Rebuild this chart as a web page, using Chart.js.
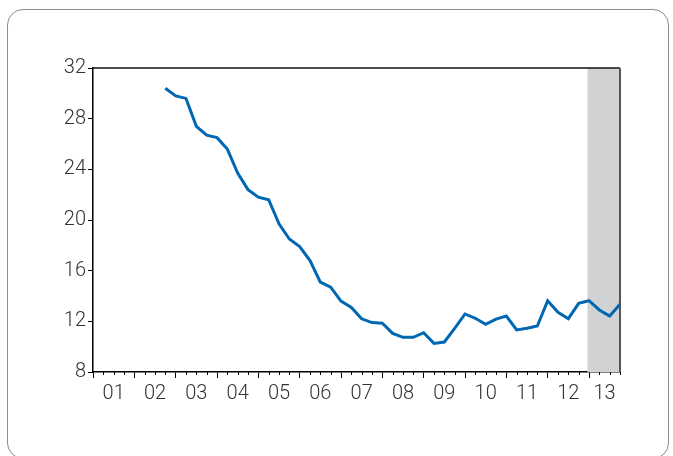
<!DOCTYPE html>
<html>
<head>
<meta charset="utf-8">
<script src="https://cdn.jsdelivr.net/npm/chart.js@4/dist/chart.umd.min.js"></script>
<style>
  html, body { margin: 0; padding: 0; background: #fff; }
  #wrap { position: relative; width: 673px; height: 456px; overflow: hidden; }
  #frame { position: absolute; left: 7px; top: 9px; width: 662px; height: 450px;
           border: 1px solid #8c8c8c; border-radius: 16px; box-sizing: border-box; pointer-events: none; }
  canvas { position: absolute; left: 0; top: 0; }
</style>
</head>
<body>
<div id="wrap">
  <canvas id="c" width="673" height="456"></canvas>
  <div id="frame"></div>
</div>
<script>
// Quarter-end positions from 2000Q4 to 2013Q3
const quarters = [];
for (let y = 2000; y <= 2013; y++) {
  for (let q = 1; q <= 4; q++) {
    if (y === 2000 && q < 4) continue;
    if (y === 2013 && q > 3) continue;
    quarters.push(y + 'Q' + q);
  }
}
const yearLabels = ['01','02','03','04','05','06','07','08','09','10','11','12','13\u2002'];
const values = [
  null, null, null, null, null, null, null,
  30.4, 29.8, 29.6, 27.4, 26.7, 26.5, 25.6, 23.7, 22.4, 21.8,
  21.6, 19.7, 18.5, 17.9, 16.8, 15.1, 14.7, 13.6, 13.1, 12.2,
  11.9, 11.85, 11.05, 10.74, 10.74, 11.1, 10.26, 10.37, 11.45, 12.58,
  12.24, 11.76, 12.18, 12.42, 11.32, 11.45, 11.63, 13.63, 12.71, 12.21,
  13.42, 13.63, 12.9, 12.42, 13.34
];
const yTicks = [8, 12, 16, 20, 24, 28, 32];
const shadeStart = '2012Q4';
const shadeEnd = '2013Q3';

const FONT = "Roboto, 'Liberation Sans', sans-serif";

const overlay = {
  id: 'overlay',
  beforeDatasetsDraw(chart) {
    const {ctx, chartArea: a, scales: {x}} = chart;
    const x0 = x.getPixelForValue(quarters.indexOf(shadeStart)) - 1.5;
    const x1 = x.getPixelForValue(quarters.indexOf(shadeEnd));
    ctx.save();
    ctx.fillStyle = '#d1d2d4';
    ctx.fillRect(x0, a.top, x1 - x0, a.bottom - a.top);
    ctx.restore();
  },
  afterDraw(chart) {
    const {ctx, chartArea: a, scales: {x}} = chart;
    ctx.save();
    ctx.strokeStyle = '#000';
    ctx.lineWidth = 1;
    for (let i = 0; i < quarters.length; i++) {
      if (i % 4 === 0) continue;
      const px = Math.round(x.getPixelForValue(i)) + 0.5;
      ctx.beginPath();
      ctx.moveTo(px, a.bottom);
      ctx.lineTo(px, a.bottom + 3);
      ctx.stroke();
    }
    ctx.lineWidth = 1.5;
    ctx.strokeStyle = '#111';
    ctx.beginPath();
    ctx.moveTo(a.left, a.top);
    ctx.lineTo(a.right, a.top);
    ctx.stroke();
    ctx.lineWidth = 2;
    ctx.strokeStyle = '#555';
    ctx.beginPath();
    ctx.moveTo(a.right, a.top);
    ctx.lineTo(a.right, a.bottom);
    ctx.stroke();
    ctx.restore();
  }
};

new Chart(document.getElementById('c'), {
  type: 'line',
  data: {
    labels: quarters,
    datasets: [{
      data: values,
      borderColor: '#0068b3',
      borderWidth: 3,
      pointRadius: 0,
      tension: 0,
      spanGaps: false,
      fill: false
    }]
  },
  options: {
    responsive: false,
    animation: false,
    events: [],
    layout: { padding: { left: 0, right: 53, top: 68, bottom: 0 } },
    plugins: { legend: { display: false }, tooltip: { enabled: false } },
    scales: {
      x: {
        type: 'category',
        offset: false,
        afterFit(s) { s.height = 84; },
        grid: {
          drawOnChartArea: false,
          drawTicks: true,
          tickLength: 6,
          tickColor: (c) => (c.index % 4 === 0 ? '#000' : 'rgba(0,0,0,0)'),
          tickWidth: 1
        },
        border: { display: true, color: '#000', width: 1.5 },
        ticks: {
          autoSkip: false,
          maxRotation: 0,
          minRotation: 0,
          padding: 4,
          color: '#333',
          font: { family: FONT, size: 20, weight: 300 },
          callback: (v, i) => ((i - 2) % 4 === 0 && i >= 2 ? yearLabels[(i - 2) / 4] : '')
        }
      },
      y: {
        min: 8,
        max: 32,
        afterFit(s) { s.width = 93; },
        afterBuildTicks(s) { s.ticks = yTicks.map(v => ({ value: v })); },
        grid: { drawOnChartArea: false, drawTicks: true, tickLength: 5, tickColor: '#000' },
        border: { display: true, color: '#000', width: 1.5 },
        ticks: {
          padding: 2,
          color: '#333',
          font: { family: FONT, size: 20, weight: 300 },
          callback: (v) => String(v)
        }
      }
    }
  },
  plugins: [overlay]
});
</script>
</body>
</html>
